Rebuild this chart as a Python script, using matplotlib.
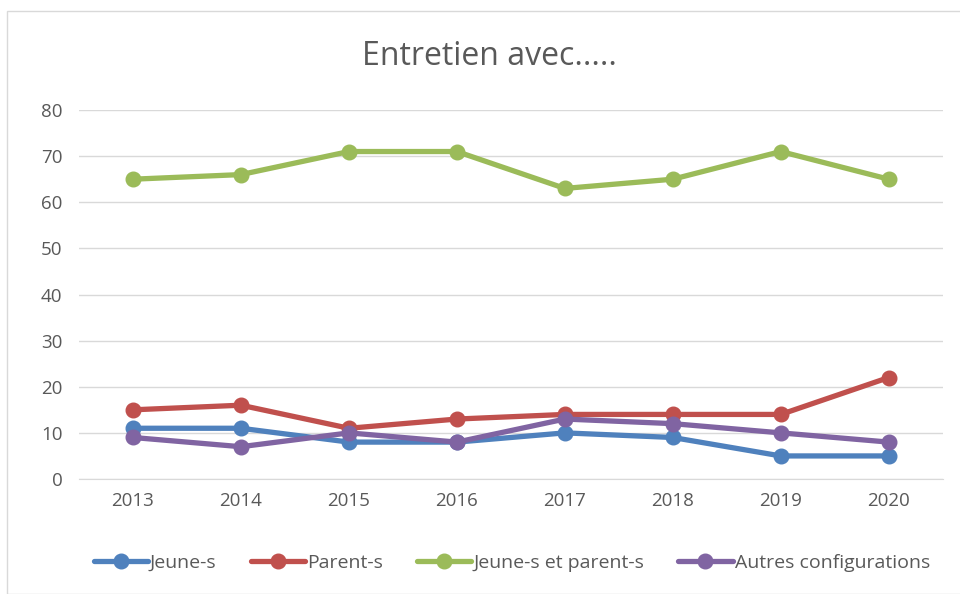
import matplotlib.pyplot as plt
from matplotlib.patches import Rectangle

years = ['2013', '2014', '2015', '2016', '2017', '2018', '2019', '2020']
jeunes = [11, 11, 8, 8, 10, 9, 5, 5]
parents = [15, 16, 11, 13, 14, 14, 14, 22]
jeunes_parents = [65, 66, 71, 71, 63, 65, 71, 65]
autres = [9, 7, 10, 8, 13, 12, 10, 8]

series = [
    ('Jeune-s', jeunes, '#4F81BD'),
    ('Parent-s', parents, '#C0504D'),
    ('Jeune-s et parent-s', jeunes_parents, '#9BBB59'),
    ('Autres configurations', autres, '#8064A2'),
]

plt.rcParams['font.family'] = ['Open Sans', 'DejaVu Sans']
text_color = '#595959'

fig = plt.figure(figsize=(9.6, 5.94), dpi=100)
fig.patches.append(Rectangle((0.007, 0.0), 1.0, 0.982, transform=fig.transFigure,
                             fill=False, edgecolor='#D9D9D9', linewidth=1))
ax = fig.add_axes([0.0823, 0.1936, 0.8997, 0.6212])

x = list(range(len(years)))
for name, vals, color in series:
    ax.plot(x, vals, color=color, linewidth=3.8, marker='o', markersize=10.5,
            label=name, solid_capstyle='round', zorder=3)

ax.set_xlim(-0.5, len(years) - 0.5)
ax.set_ylim(0, 80)
ax.set_yticks(range(0, 81, 10))
ax.set_xticks(x)
ax.set_xticklabels(years)
ax.grid(axis='y', color='#D9D9D9', linewidth=1)
ax.set_axisbelow(True)
for s in ['top', 'right', 'left']:
    ax.spines[s].set_visible(False)
ax.spines['bottom'].set_color('#D9D9D9')
ax.tick_params(length=0, labelsize=13.5, colors=text_color, pad=9)
ax.tick_params(axis='y', pad=12)

fig.text(0.51, 0.905, 'Entretien avec.....', ha='center', va='center',
         fontsize=23, color=text_color)

leg = fig.legend(loc='center', bbox_to_anchor=(0.533, 0.053), ncol=4, frameon=False,
                 fontsize=14, handlelength=2.8, handletextpad=0.1, columnspacing=1.75)
for t in leg.get_texts():
    t.set_color(text_color)

fig.savefig('out.png', dpi=100)
